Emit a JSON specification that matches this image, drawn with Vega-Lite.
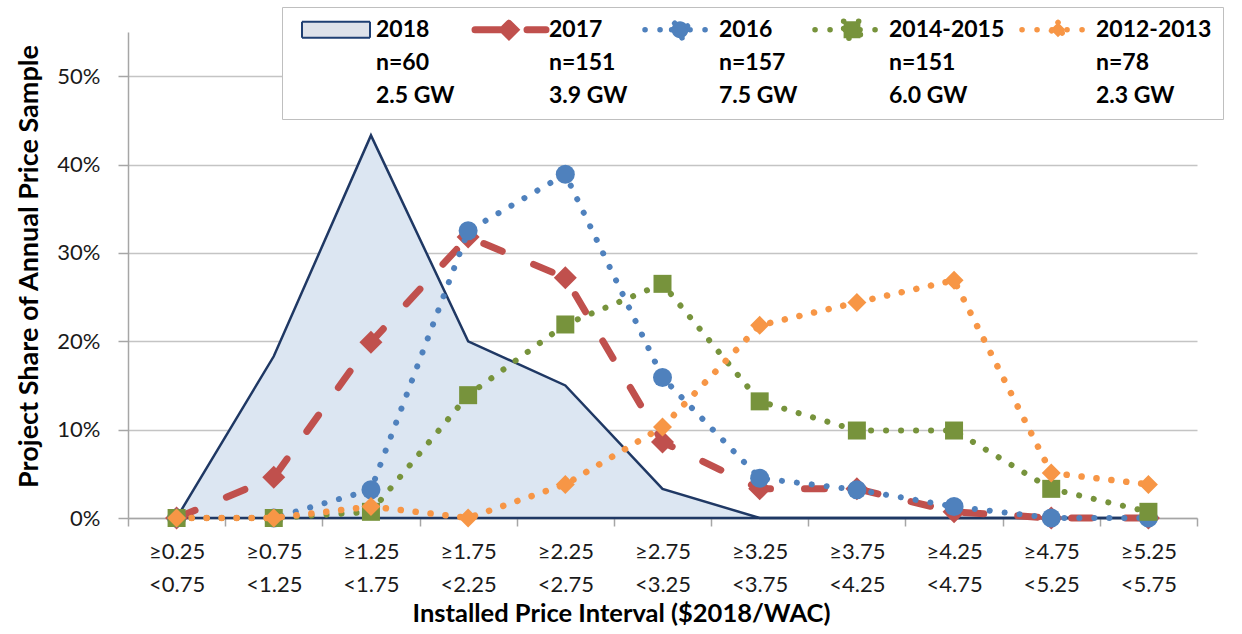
{
  "$schema": "https://vega.github.io/schema/vega-lite/v6.json",
  "width": 1069,
  "height": 486,
  "autosize": {"type": "none"},
  "padding": {"left": 128, "top": 32, "right": 45, "bottom": 116},
  "background": "white",
  "config": {"view": {"stroke": null}, "font": "Lato"},
  "data": {
    "values": [
      {"interval": "≥0.25 <0.75", "series": "2018", "share": 0},
      {"interval": "≥0.75 <1.25", "series": "2018", "share": 0.183},
      {"interval": "≥1.25 <1.75", "series": "2018", "share": 0.433},
      {"interval": "≥1.75 <2.25", "series": "2018", "share": 0.2},
      {"interval": "≥2.25 <2.75", "series": "2018", "share": 0.15},
      {"interval": "≥2.75 <3.25", "series": "2018", "share": 0.033},
      {"interval": "≥3.25 <3.75", "series": "2018", "share": 0},
      {"interval": "≥3.75 <4.25", "series": "2018", "share": 0},
      {"interval": "≥4.25 <4.75", "series": "2018", "share": 0},
      {"interval": "≥4.75 <5.25", "series": "2018", "share": 0},
      {"interval": "≥5.25 <5.75", "series": "2018", "share": 0},
      {"interval": "≥0.25 <0.75", "series": "2017", "share": 0},
      {"interval": "≥0.75 <1.25", "series": "2017", "share": 0.046},
      {"interval": "≥1.25 <1.75", "series": "2017", "share": 0.199},
      {"interval": "≥1.75 <2.25", "series": "2017", "share": 0.318},
      {"interval": "≥2.25 <2.75", "series": "2017", "share": 0.272},
      {"interval": "≥2.75 <3.25", "series": "2017", "share": 0.086},
      {"interval": "≥3.25 <3.75", "series": "2017", "share": 0.033},
      {"interval": "≥3.75 <4.25", "series": "2017", "share": 0.033},
      {"interval": "≥4.25 <4.75", "series": "2017", "share": 0.007},
      {"interval": "≥4.75 <5.25", "series": "2017", "share": 0},
      {"interval": "≥5.25 <5.75", "series": "2017", "share": 0},
      {"interval": "≥0.25 <0.75", "series": "2016", "share": 0},
      {"interval": "≥0.75 <1.25", "series": "2016", "share": 0},
      {"interval": "≥1.25 <1.75", "series": "2016", "share": 0.032},
      {"interval": "≥1.75 <2.25", "series": "2016", "share": 0.325},
      {"interval": "≥2.25 <2.75", "series": "2016", "share": 0.389},
      {"interval": "≥2.75 <3.25", "series": "2016", "share": 0.159},
      {"interval": "≥3.25 <3.75", "series": "2016", "share": 0.045},
      {"interval": "≥3.75 <4.25", "series": "2016", "share": 0.032},
      {"interval": "≥4.25 <4.75", "series": "2016", "share": 0.013},
      {"interval": "≥4.75 <5.25", "series": "2016", "share": 0},
      {"interval": "≥5.25 <5.75", "series": "2016", "share": 0},
      {"interval": "≥0.25 <0.75", "series": "2014-2015", "share": 0},
      {"interval": "≥0.75 <1.25", "series": "2014-2015", "share": 0},
      {"interval": "≥1.25 <1.75", "series": "2014-2015", "share": 0.007},
      {"interval": "≥1.75 <2.25", "series": "2014-2015", "share": 0.139},
      {"interval": "≥2.25 <2.75", "series": "2014-2015", "share": 0.219},
      {"interval": "≥2.75 <3.25", "series": "2014-2015", "share": 0.265},
      {"interval": "≥3.25 <3.75", "series": "2014-2015", "share": 0.132},
      {"interval": "≥3.75 <4.25", "series": "2014-2015", "share": 0.099},
      {"interval": "≥4.25 <4.75", "series": "2014-2015", "share": 0.099},
      {"interval": "≥4.75 <5.25", "series": "2014-2015", "share": 0.033},
      {"interval": "≥5.25 <5.75", "series": "2014-2015", "share": 0.007},
      {"interval": "≥0.25 <0.75", "series": "2012-2013", "share": 0},
      {"interval": "≥0.75 <1.25", "series": "2012-2013", "share": 0},
      {"interval": "≥1.25 <1.75", "series": "2012-2013", "share": 0.013},
      {"interval": "≥1.75 <2.25", "series": "2012-2013", "share": 0},
      {"interval": "≥2.25 <2.75", "series": "2012-2013", "share": 0.038},
      {"interval": "≥2.75 <3.25", "series": "2012-2013", "share": 0.103},
      {"interval": "≥3.25 <3.75", "series": "2012-2013", "share": 0.218},
      {"interval": "≥3.75 <4.25", "series": "2012-2013", "share": 0.244},
      {"interval": "≥4.25 <4.75", "series": "2012-2013", "share": 0.269},
      {"interval": "≥4.75 <5.25", "series": "2012-2013", "share": 0.051},
      {"interval": "≥5.25 <5.75", "series": "2012-2013", "share": 0.038}
    ]
  },
  "encoding": {
    "x": {
      "field": "interval",
      "type": "ordinal",
      "sort": ["≥0.25 <0.75", "≥0.75 <1.25", "≥1.25 <1.75", "≥1.75 <2.25", "≥2.25 <2.75", "≥2.75 <3.25", "≥3.25 <3.75", "≥3.75 <4.25", "≥4.25 <4.75", "≥4.75 <5.25", "≥5.25 <5.75"],
      "scale": {"type": "band", "paddingInner": 0, "paddingOuter": 0},
      "axis": {
        "title": "Installed Price Interval ($2018/WAC)",
        "labelExpr": "split(datum.label, ' ')",
        "labelAngle": 0,
        "labelFont": "Lato",
        "labelFontSize": 22,
        "labelColor": "#1a1a1a",
        "labelLineHeight": 33,
        "labelPadding": 15,
        "labelBaseline": "top",
        "tickBand": "extent",
        "tickSize": 8,
        "tickColor": "#A6A6A6",
        "tickWidth": 1.5,
        "domainColor": "#A6A6A6",
        "domainWidth": 1.5,
        "grid": false,
        "titleFont": "Lato",
        "titleFontSize": 25.5,
        "titleFontWeight": "bold",
        "titleColor": "#000000",
        "titleX": 493,
        "titleY": 95,
        "titleAlign": "center",
        "titleBaseline": "middle"
      }
    },
    "y": {
      "field": "share",
      "type": "quantitative",
      "scale": {"domain": [0, 0.55], "nice": false},
      "axis": {
        "title": "Project Share of Annual Price Sample",
        "values": [0, 0.1, 0.2, 0.3, 0.4, 0.5],
        "format": ".0%",
        "grid": true,
        "gridColor": "#C4C4C4",
        "gridWidth": 1.5,
        "domainColor": "#A6A6A6",
        "domainWidth": 1.5,
        "tickColor": "#A6A6A6",
        "tickWidth": 1.5,
        "tickSize": 10,
        "labelPadding": 18,
        "labelFont": "Lato",
        "labelFontSize": 22,
        "labelColor": "#1a1a1a",
        "titleFont": "Lato",
        "titleFontSize": 27,
        "titleFontWeight": "bold",
        "titleColor": "#000000",
        "titleX": -99,
        "titleY": 234,
        "titleAngle": -90,
        "titleAlign": "center",
        "titleBaseline": "middle"
      }
    },
    "color": {
      "field": "series",
      "type": "nominal",
      "scale": {
        "domain": ["2018", "2017", "2016", "2014-2015", "2012-2013"],
        "range": ["#1F3F73", "#C0504D", "#4F81BD", "#77933C", "#F79646"]
      },
      "legend": {
        "orient": "none",
        "legendX": 154,
        "legendY": -25,
        "direction": "horizontal",
        "columns": 5,
        "title": null,
        "fillColor": "white",
        "strokeColor": "#BFBFBF",
        "padding": 11,
        "cornerRadius": 0,
        "symbolSize": 6400,
        "symbolOpacity": 1,
        "symbolOffset": 28.5,
        "columnPadding": 6,
        "labelOffset": 31.5,
        "labelFont": "Lato",
        "labelFontSize": 23,
        "labelFontWeight": "bold",
        "labelColor": "#000000",
        "labelLimit": 400,
        "labelExpr": "datum.label === '2018' ? ['2018','n=60','2.5 GW'] : datum.label === '2017' ? ['2017','n=151','3.9 GW'] : datum.label === '2016' ? ['2016','n=157','7.5 GW'] : datum.label === '2014-2015' ? ['2014-2015','n=151','6.0 GW'] : ['2012-2013','n=78','2.3 GW']",
        "encode": {
          "labels": {"update": {"lineHeight": {"value": 33}}},
          "symbols": {
            "update": {
              "size": {"value": 6400},
              "shape": {"signal": "datum.value === '2018' ? 'M-0.775,-0.2H0.925V0.2H-0.775Z' : datum.value === '2017' ? 'M-0.775,0H1M0.075,-0.16L0.235,0L0.075,0.16L-0.085,0Z' : datum.value === '2016' ? 'M-0.775,0H1M-0.11,0A0.21,0.21 0 1,0 0.31,0A0.21,0.21 0 1,0 -0.11,0Z' : datum.value === '2014-2015' ? 'M-0.775,0H1M-0.06,-0.21H0.36V0.21H-0.06Z' : 'M-0.775,0H1M0.125,-0.185L0.31,0L0.125,0.185L-0.06,0Z'"},
              "strokeWidth": {"signal": "datum.value === '2018' ? 2 : datum.value === '2017' ? 7 : 5.5"},
              "strokeDash": {"signal": "datum.value === '2018' ? [1,0] : datum.value === '2017' ? [36,16] : [0.1,14.9]"},
              "strokeCap": {"signal": "datum.value === '2018' ? 'butt' : 'round'"},
              "opacity": {"value": 1},
              "fillOpacity": {"signal": "datum.value === '2018' ? 0.15 : 1"},
              "strokeOpacity": {"value": 1}
            }
          }
        }
      }
    }
  },
  "layer": [
    {
      "transform": [{"filter": "datum.series === '2018'"}],
      "mark": {"type": "area", "opacity": 1},
      "encoding": {"color": {"value": "#DCE6F2"}}
    },
    {
      "transform": [{"filter": "datum.series === '2018'"}],
      "mark": {"type": "line", "strokeWidth": 2.5, "strokeJoin": "miter"},
      "encoding": {"color": {"value": "#1F3864"}, "y": {"datum": 0}}
    },
    {
      "transform": [{"filter": "datum.series === '2018'"}],
      "mark": {"type": "line", "strokeWidth": 2.5, "strokeJoin": "miter"},
      "encoding": {"color": {"value": "#1F3864"}}
    },
    {
      "transform": [{"filter": "datum.series === '2017'"}],
      "mark": {"type": "line", "strokeWidth": 7, "strokeDash": [20, 34], "strokeCap": "round"}
    },
    {
      "transform": [{"filter": "datum.series === '2017'"}],
      "mark": {"type": "point", "filled": true, "shape": "diamond", "size": 529, "opacity": 1, "strokeWidth": 0},
      "encoding": {"color": {"field": "series", "type": "nominal", "legend": null}}
    },
    {
      "transform": [{"filter": "datum.series === '2016'"}],
      "mark": {"type": "line", "strokeWidth": 6, "strokeDash": [0.1, 14.9], "strokeCap": "round"}
    },
    {
      "transform": [{"filter": "datum.series === '2016'"}],
      "mark": {"type": "point", "filled": true, "shape": "circle", "size": 361, "opacity": 1, "strokeWidth": 0},
      "encoding": {"color": {"field": "series", "type": "nominal", "legend": null}}
    },
    {
      "transform": [{"filter": "datum.series === '2014-2015'"}],
      "mark": {"type": "line", "strokeWidth": 6, "strokeDash": [0.1, 14.9], "strokeCap": "round"}
    },
    {
      "transform": [{"filter": "datum.series === '2014-2015'"}],
      "mark": {"type": "point", "filled": true, "shape": "square", "size": 324, "opacity": 1, "strokeWidth": 0},
      "encoding": {"color": {"field": "series", "type": "nominal", "legend": null}}
    },
    {
      "transform": [{"filter": "datum.series === '2012-2013'"}],
      "mark": {"type": "line", "strokeWidth": 6.5, "strokeDash": [0.1, 14.9], "strokeCap": "round"}
    },
    {
      "transform": [{"filter": "datum.series === '2012-2013'"}],
      "mark": {"type": "point", "filled": true, "shape": "diamond", "size": 361, "opacity": 1, "strokeWidth": 0},
      "encoding": {"color": {"field": "series", "type": "nominal", "legend": null}}
    }
  ]
}
